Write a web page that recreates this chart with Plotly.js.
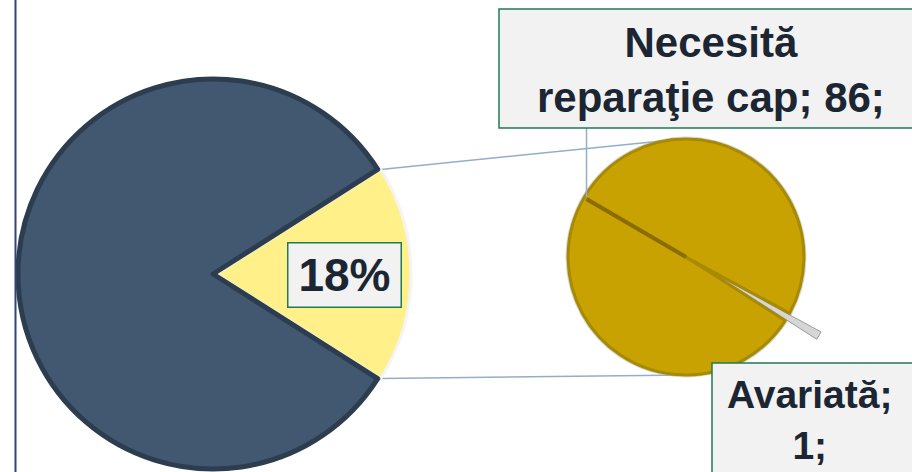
<!DOCTYPE html>
<html><head><meta charset="utf-8">
<script src="https://cdn.plot.ly/plotly-3.0.1.min.js"></script>
<style>html,body{margin:0;padding:0;background:#fff;overflow:hidden}</style>
</head><body><div id="chart" style="width:912px;height:472px"></div>
<script>
// ---- data ----
const mainLabels = ['Necesită intervenţie', 'Funcţională'];
const mainValues = [87, 396];
const subLabels = ['Avariată', 'Necesită reparaţie cap'];
const subValues = [1, 86];

// ---- style ----
const mainColors = ['#FFF089', '#415870'];
const subColors = ['#D6D6D6', '#C8A200'];
const W = 912, H = 472;
const mainDom = {x: [0.0165, 0.4507], y: [0, 0.839]};
const subDom = {x: [0.5828, 0.9216], y: [0.1282, 0.7828]};
const mainPull = [0.015, 0];
const subPull = [0.31, 0];
const subDir = 120.6; // direction of the small slice, degrees clockwise from 12 o'clock
const textColor = '#1C2633';
const boxFill = '#F2F2F2', boxLine = '#1F7A55';
const connColor = '#93AECB';
const FONT = 'Liberation Sans, Arial, sans-serif';

const sum = a => a.reduce((s, v) => s + v, 0);
function geom(dom, pull) {
  const bw = W * (dom.x[1] - dom.x[0]), bh = H * (dom.y[1] - dom.y[0]);
  return {r: Math.min(bw, bh) / (2 + 2 * Math.max(...pull)),
          cx: W * (dom.x[0] + dom.x[1]) / 2, cy: H * (1 - (dom.y[0] + dom.y[1]) / 2)};
}
const px = x => x / W, py = y => 1 - y / H;
const rad = d => d * Math.PI / 180;
const dirVec = a => [Math.sin(rad(a)), -Math.cos(rad(a))];

const mainShare = mainValues[0] / sum(mainValues);
const mainRot = 90 - 180 * mainShare;
const subShare = subValues[0] / sum(subValues);
const subRot = subDir - 180 * subShare;

const gM = geom(mainDom, mainPull), gS = geom(subDom, subPull);
const apex = [gM.cx + mainPull[0] * gM.r, gM.cy];
const a0 = mainRot, a1 = mainRot + 360 * mainShare;
const c0 = [apex[0] + gM.r * dirVec(a0)[0], apex[1] + gM.r * dirVec(a0)[1]];
const c1 = [apex[0] + gM.r * dirVec(a1)[0], apex[1] + gM.r * dirVec(a1)[1]];
function tangent(P, upper) {
  const vx = gS.cx - P[0], vy = gS.cy - P[1];
  const d = Math.hypot(vx, vy), b = Math.atan2(vy, vx), al = Math.asin(gS.r / d);
  const L = Math.sqrt(d * d - gS.r * gS.r), ang = upper ? b - al : b + al;
  return [P[0] + L * Math.cos(ang), P[1] + L * Math.sin(ang)];
}
const t0 = tangent(c0, true), t1 = tangent(c1, false);
const gv = dirVec(subDir + 180);
const rim = [gS.cx + gS.r * gv[0], gS.cy + gS.r * gv[1]];

const box1 = {x0: 499, y0: 9, x1: 930, y1: 128};
const box2 = {x0: 712, y0: 363, x1: 930, y1: 490};

const shapes = [
  {type: 'line', xref: 'paper', yref: 'paper', x0: px(15.5), x1: px(15.5), y0: 0, y1: 1,
   line: {color: '#2E4777', width: 2}},
  {type: 'circle', xref: 'paper', yref: 'paper', layer: 'below',
   x0: px(gS.cx - gS.r - 2.5), x1: px(gS.cx + gS.r + 2.5), y0: py(gS.cy + gS.r + 2.5), y1: py(gS.cy - gS.r - 2.5),
   fillcolor: '#D5D5D5', line: {width: 0}},
  {type: 'line', xref: 'paper', yref: 'paper', layer: 'below',
   x0: px(c0[0]), y0: py(c0[1]), x1: px(t0[0]), y1: py(t0[1]), line: {color: connColor, width: 1.5}},
  {type: 'line', xref: 'paper', yref: 'paper', layer: 'below',
   x0: px(c1[0]), y0: py(c1[1]), x1: px(t1[0]), y1: py(t1[1]), line: {color: connColor, width: 1.5}},
  {type: 'line', xref: 'paper', yref: 'paper',
   x0: px(rim[0] + 2), y0: py(rim[1] + 2), x1: px(gS.cx), y1: py(gS.cy), line: {color: '#8A6C00', width: 4}},
  {type: 'line', xref: 'paper', yref: 'paper',
   x0: px(rim[0] + 2), y0: py(box1.y1), x1: px(rim[0] + 2), y1: py(rim[1]), line: {color: connColor, width: 1.5}},
  {type: 'rect', xref: 'paper', yref: 'paper', x0: px(box1.x0), x1: px(box1.x1), y0: py(box1.y1), y1: py(box1.y0),
   fillcolor: boxFill, line: {color: boxLine, width: 1.5}},
  {type: 'rect', xref: 'paper', yref: 'paper', x0: px(box2.x0), x1: px(box2.x1), y0: py(box2.y1), y1: py(box2.y0),
   fillcolor: boxFill, line: {color: boxLine, width: 1.5}}
];

const words = subLabels[1].split(' ');
const lab1 = words[0] + '<br>' + words.slice(1).join(' ') + '; ' + subValues[1] + ';';
const lab2 = subLabels[0] + ';<br>' + subValues[0] + ';';
const bold = (s, c) => ({family: FONT, size: s, color: c || textColor, weight: 700});
const ann = (text, x, y, size) => ({text, xref: 'paper', yref: 'paper', x: px(x), y: py(y),
  xanchor: 'center', yanchor: 'middle', align: 'center', showarrow: false, font: bold(size)});

const annotations = [
  {text: Math.round(100 * mainShare) + '%', xref: 'paper', yref: 'paper', x: px(344.5), y: py(275),
   xanchor: 'center', yanchor: 'middle', showarrow: false, font: bold(46),
   bgcolor: boxFill, bordercolor: boxLine, borderwidth: 1.5, borderpad: 4, width: 104, height: 55},
  ann(lab1, 711, 70, 42),
  ann(lab2, 809, 420, 39)
];

const traces = [
  {type: 'pie', labels: mainLabels, values: mainValues, sort: false, direction: 'clockwise',
   rotation: mainRot, pull: mainPull, domain: mainDom, textinfo: 'none', hoverinfo: 'label+value+percent',
   marker: {colors: mainColors, line: {color: ['#F4F4F4', '#2C3D50'], width: [3, 5]}}, showlegend: false},
  {type: 'pie', labels: subLabels, values: subValues, sort: false, direction: 'clockwise',
   rotation: subRot, pull: subPull, domain: subDom, textinfo: 'none', hoverinfo: 'label+value',
   marker: {colors: subColors, line: {color: ['#9A9A9A', '#A88A00'], width: [1, 3]}}, showlegend: false}
];

Plotly.newPlot('chart', traces, {
  width: W, height: H, margin: {l: 0, r: 0, t: 0, b: 0},
  paper_bgcolor: '#FFFFFF', plot_bgcolor: '#FFFFFF', showlegend: false,
  shapes, annotations, font: {family: FONT}
}, {displayModeBar: false, staticPlot: true});
</script></body></html>
